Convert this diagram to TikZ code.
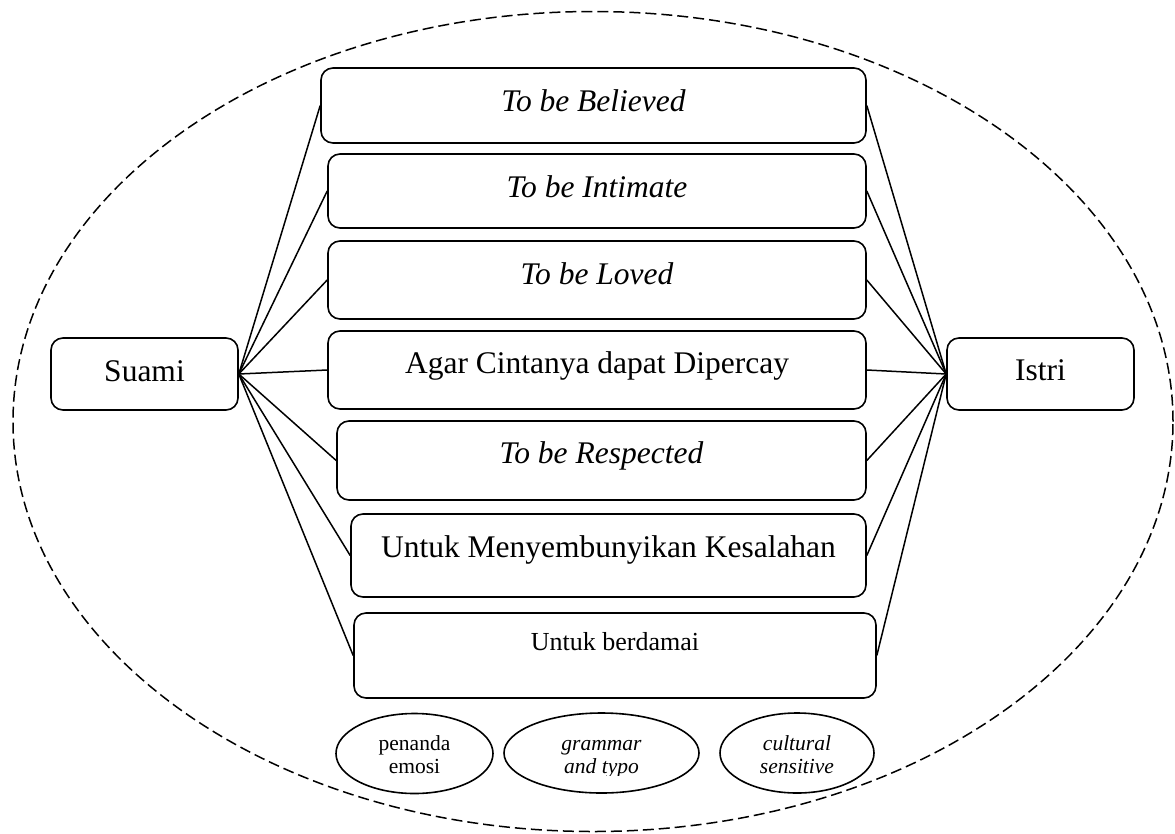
\documentclass[tikz,border=0pt]{standalone}
\usepackage{fontspec}
\setmainfont{Liberation Serif}
\usetikzlibrary{shapes.geometric,fit}
\begin{document}
\begin{tikzpicture}[x=1pt,y=-1pt,
  box/.style={draw, line width=1.6pt, rounded corners=12pt, inner sep=0pt, rectangle},
  conn/.style={line width=1.5pt},
  ell/.style={draw, ellipse, line width=1.6pt, inner sep=0pt, minimum height=80pt},
  big/.style={anchor=base, inner sep=0pt, font=\fontsize{31.5}{36}\selectfont},
  bigit/.style={big, font=\fontsize{31.5}{36}\selectfont\itshape},
  mid/.style={anchor=base, inner sep=0pt, font=\fontsize{26}{30}\selectfont},
  small/.style={anchor=base, inner sep=0pt, font=\fontsize{21.5}{23}\selectfont},
  smallit/.style={small, font=\fontsize{21.5}{23}\selectfont\itshape}]
\useasboundingbox (0,0) rectangle (1175,833);
% outer dashed ellipse
\draw[line width=1.5pt, dash pattern=on 11pt off 5pt] (593,421.5) ellipse [x radius=580pt, y radius=410pt];
% side boxes
\node[box, fit={(51,338) (238,410)}] (suami) {};
\node[box, fit={(947,338) (1134,410)}] (istri) {};
\node[big] (tsuami) at (144.5,381) {Suami};
\node[big] (tistri) at (1040.5,380) {Istri};
% middle boxes
\node[box, fit={(321,68) (866,143)}] (b1) {};
\node[box, fit={(328,154) (866,228)}] (b2) {};
\node[box, fit={(328,241) (866,319)}] (b3) {};
\node[box, fit={(328,331) (866,409)}] (b4) {};
\node[box, fit={(337,421) (866,500)}] (b5) {};
\node[box, fit={(351,514) (866,597)}] (b6) {};
\node[box, fit={(354,613) (876,698)}] (b7) {};
\node[bigit] (t1) at (593.5,111) {To be Believed};
\node[bigit] (t2) at (597,197) {To be Intimate};
\node[bigit] (t3) at (597,284) {To be Loved};
\node[big] (t4) at (597,373) {Agar Cintanya dapat Dipercay};
\node[bigit] (t5) at (601.5,463) {To be Respected};
\node[big] (t6) at (608.5,557) {Untuk Menyembunyikan Kesalahan};
\node[mid] (t7) at (615,650) {Untuk berdamai};
% connectors
\foreach \b in {b1,b2,b3,b4,b5,b6,b7}{
  \draw[conn] (suami.east) -- (\b.west);
  \draw[conn] (istri.west) -- (\b.east);
}
% bottom ellipses
\node[ell, minimum width=157pt] (e1) at (414.5,753.5) {};
\node[ell, minimum width=195pt] (e2) at (601.5,753) {};
\node[ell, minimum width=154pt] (e3) at (797,753) {};
\begin{scope}
\clip (300,700) rectangle (900,775);
\node[small] (e1a) at (414.5,750) {penanda};
\node[small] (e1b) at (414.5,773) {emosi};
\node[smallit] (e2a) at (601.5,750) {grammar};
\node[smallit] (e2b) at (601.5,773) {and typo};
\node[smallit] (e3a) at (797,750) {cultural};
\node[smallit] (e3b) at (797,773) {sensitive};
\end{scope}
\end{tikzpicture}
\end{document}
